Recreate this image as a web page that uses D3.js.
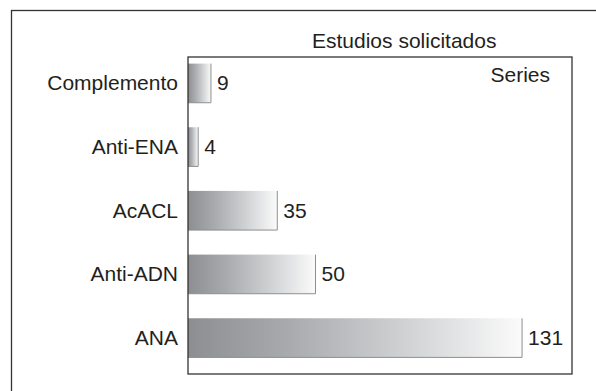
<!DOCTYPE html>
<html>
<head>
<meta charset="utf-8">
<script src="https://cdn.jsdelivr.net/npm/d3@7"></script>
<style>
  html, body { margin: 0; padding: 0; background: #fff; }
  svg { display: block; }
  text { font-family: "Liberation Sans", Arial, sans-serif; fill: #231f20; }
</style>
</head>
<body>
<svg id="chart" width="596" height="391"></svg>
<script>
const categories = ["Complemento", "Anti-ENA", "AcACL", "Anti-ADN", "ANA"];
const values = [9, 4, 35, 50, 131];
const chartTitle = "Estudios solicitados";
const legendLabel = "Series";

const W = 596, H = 391;
const svg = d3.select("#chart");

const plot = { left: 188, top: 57, right: 572, bottom: 374 };

const x = d3.scaleLinear().domain([0, 150]).range([plot.left, plot.left + 382.5]);
const y = d3.scaleBand().domain(categories).range([51.5, 369.5]).paddingInner(0.385).paddingOuter(0.19);

// gradient
const defs = svg.append("defs");
const grad = defs.append("linearGradient").attr("id", "barGrad")
  .attr("x1", "0%").attr("x2", "100%").attr("y1", "0%").attr("y2", "0%");
[["0%", "#8d8e91"], ["30%", "#a9aaad"], ["55%", "#c5c6c8"], ["80%", "#e2e3e4"], ["100%", "#fbfbfb"]]
  .forEach(([o, c]) => grad.append("stop").attr("offset", o).attr("stop-color", c));

// outer frame
svg.append("rect").attr("x", 11.5).attr("y", 10.5).attr("width", 620).attr("height", 420)
  .attr("fill", "none").attr("stroke", "#333").attr("stroke-width", 1.3);

// title
svg.append("text").attr("x", 312).attr("y", 47.5).attr("font-size", 21).text(chartTitle);

// bars
const g = svg.append("g");
const bars = g.selectAll("g.bar").data(categories.map((c, i) => ({ c, v: values[i] }))).join("g").attr("class", "bar");
bars.append("rect")
  .attr("x", x(0))
  .attr("y", d => y(d.c))
  .attr("width", d => x(d.v) - x(0))
  .attr("height", y.bandwidth())
  .attr("fill", "url(#barGrad)");
bars.append("path")
  .attr("d", d => `M${x(d.v)},${y(d.c)}V${y(d.c) + y.bandwidth()}H${x(0)}`)
  .attr("fill", "none").attr("stroke", "#8f8f8f").attr("stroke-width", 1);
bars.append("text")
  .attr("x", d => x(d.v) + 6)
  .attr("y", d => y(d.c) + y.bandwidth() / 2)
  .attr("dy", "0.34em")
  .attr("font-size", 21)
  .text(d => d.v);

// inner frame
svg.append("rect").attr("x", plot.left).attr("y", plot.top)
  .attr("width", plot.right - plot.left).attr("height", plot.bottom - plot.top)
  .attr("fill", "none").attr("stroke", "#333").attr("stroke-width", 1.3);

// y axis labels
const yAxis = d3.axisLeft(y).tickSize(0).tickPadding(10);
const ya = svg.append("g").attr("transform", `translate(${plot.left},0)`).call(yAxis);
ya.select(".domain").remove();
ya.selectAll("text").attr("font-size", 21).attr("font-family", "Liberation Sans, Arial, sans-serif")
  .attr("fill", "#231f20").attr("dy", "0.34em");

// legend label
svg.append("text").attr("x", 550).attr("y", 82).attr("text-anchor", "end").attr("font-size", 21).text(legendLabel);
</script>
</body>
</html>
